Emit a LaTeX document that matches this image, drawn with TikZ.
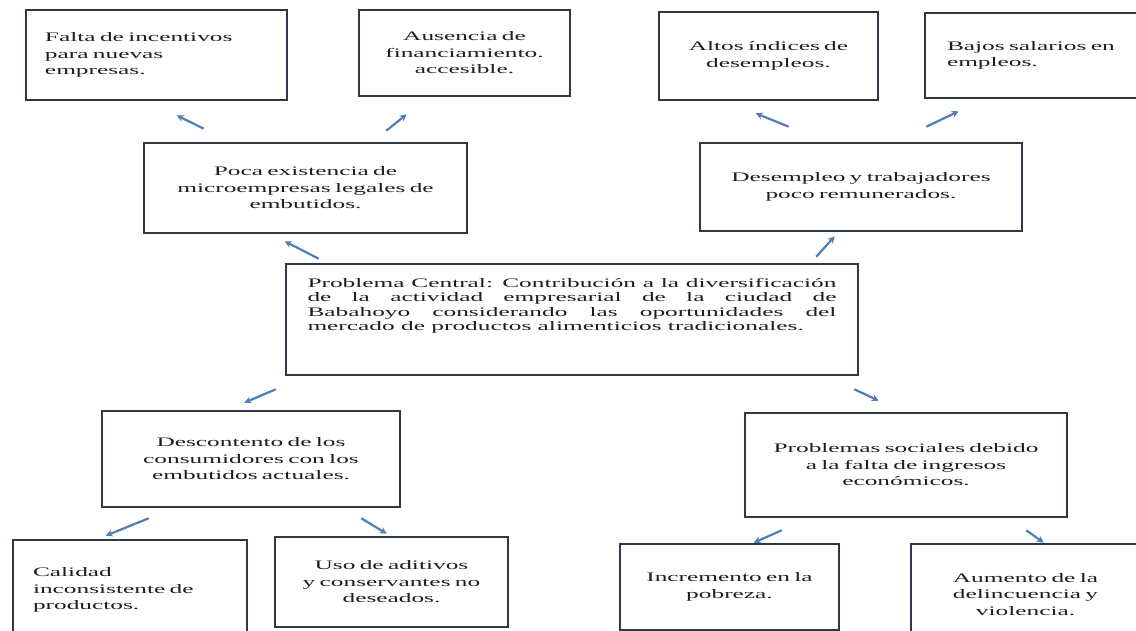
\documentclass[tikz,border=0pt]{standalone}
\usepackage{fontspec}
\setmainfont{Liberation Serif}[FakeStretch=1.95]
\usetikzlibrary{arrows.meta}
\definecolor{boxline}{HTML}{2E3846}
\definecolor{arrowc}{HTML}{4F7FB5}
\definecolor{txt}{HTML}{1E1E1E}
\tikzset{
  box/.style={draw=boxline, line width=2.6pt, fill=white, rectangle, inner ysep=3pt,
    font=\fontsize{13}{16.5}\selectfont, text=txt},
  lbox/.style={box, align=left},
  cbox/.style={box, align=center},
  arr/.style={draw=arrowc, line width=2.2pt, -{Stealth[length=7pt,width=7pt]}},
}
\begin{document}
\begin{tikzpicture}[x=1pt,y=-1pt]
\useasboundingbox (0,0) rectangle (1136,631);
\fill[white] (0,0) rectangle (1136,631);
\begin{scope}
\clip (0,0) rectangle (1136,631);
% top row
\node[lbox, minimum width=261, minimum height=90, text width=223, inner xsep=19] (A) at (156.5,55)
  {Falta de incentivos\\para nuevas\\empresas.};
\node[cbox, minimum width=211, minimum height=86, text width=195, inner xsep=8] (B) at (464.5,53)
  {Ausencia de\\financiamiento.\\accesible.};
\node[cbox, minimum width=219, minimum height=88, text width=200, inner xsep=9.5] (C) at (768.5,56)
  {Altos índices de\\desempleos.};
\node[lbox, minimum width=225, minimum height=85, text width=181, inner xsep=22] (D) at (1037.5,55.5)
  {Bajos salarios en\\empleos.};
% second row
\node[cbox, minimum width=323, minimum height=90, text width=300, inner xsep=11.5] (E) at (305.5,188)
  {Poca existencia de\\microempresas legales de\\embutidos.};
\node[cbox, minimum width=322, minimum height=88, text width=300, inner xsep=11] (F) at (861,187)
  {Desempleo y trabajadores\\poco remunerados.};
% central
\node[box, align=justify, font=\fontsize{13}{14.5}\selectfont, minimum width=572, minimum height=111,
  text width=529, inner xsep=21.5] (G) at (572,319.5)
  {Problema Central: Contribución a la diversificación\linebreak
   de la actividad empresarial de la ciudad de\linebreak
   Babahoyo considerando las oportunidades del\linebreak
   mercado de productos alimenticios tradicionales.\rule[-30pt]{0pt}{0pt}};
% third row
\node[cbox, minimum width=298, minimum height=96, text width=280, inner xsep=9] (H) at (251,459)
  {Descontento de los\\consumidores con los\\embutidos actuales.};
\node[cbox, minimum width=322, minimum height=104, text width=300, inner xsep=11] (I) at (906,465)
  {Problemas sociales debido\\a la falta de ingresos\\económicos.};
% bottom row
\node[lbox, minimum width=234, minimum height=100, text width=194, inner xsep=20] (J) at (130,590)
  {Calidad\\inconsistente de\\productos.};
\node[cbox, minimum width=233, minimum height=90, text width=219, inner xsep=7] (K) at (391.5,582)
  {Uso de aditivos\\y conservantes no\\deseados.};
\node[cbox, minimum width=219, minimum height=86, text width=200, inner xsep=9.5] (L) at (729.5,587)
  {Incremento en la\\pobreza.};
\node[cbox, minimum width=229, minimum height=101, text width=210, inner xsep=9.5] (M) at (1025.5,594.5)
  {Aumento de la\\delincuencia y\\violencia.};
% arrows
\draw[arr] ([shift={(34,-4)}]G.north west) -- ([shift={(142,7)}]E.south west);
\draw[arr] ([shift={(-43,-6)}]G.north east) -- ([shift={(136,4)}]F.south west);
\draw[arr] ([shift={(61,-13)}]E.north west) -- ([shift={(152,14)}]A.south west);
\draw[arr] ([shift={(-82,-11)}]E.north east) -- ([shift={(49,17)}]B.south west);
\draw[arr] ([shift={(90,-15)}]F.north west) -- ([shift={(98,12)}]C.south west);
\draw[arr] ([shift={(-97,-15)}]F.north east) -- ([shift={(35,12)}]D.south west);
\draw[arr] ([shift={(-9,13)}]G.south west) -- ([shift={(-157,-7)}]H.north east);
\draw[arr] ([shift={(-5,13)}]G.south east) -- ([shift={(135,-11)}]I.north west);
\draw[arr] ([shift={(48,10)}]H.south west) -- ([shift={(94,-3)}]J.north west);
\draw[arr] ([shift={(-40,10)}]H.south east) -- ([shift={(113,-2)}]K.north west);
\draw[arr] ([shift={(38,12)}]I.south west) -- ([shift={(135,0)}]L.north west);
\draw[arr] ([shift={(-42,12)}]I.south east) -- ([shift={(134,0)}]M.north west);
\end{scope}
\end{tikzpicture}
\end{document}
